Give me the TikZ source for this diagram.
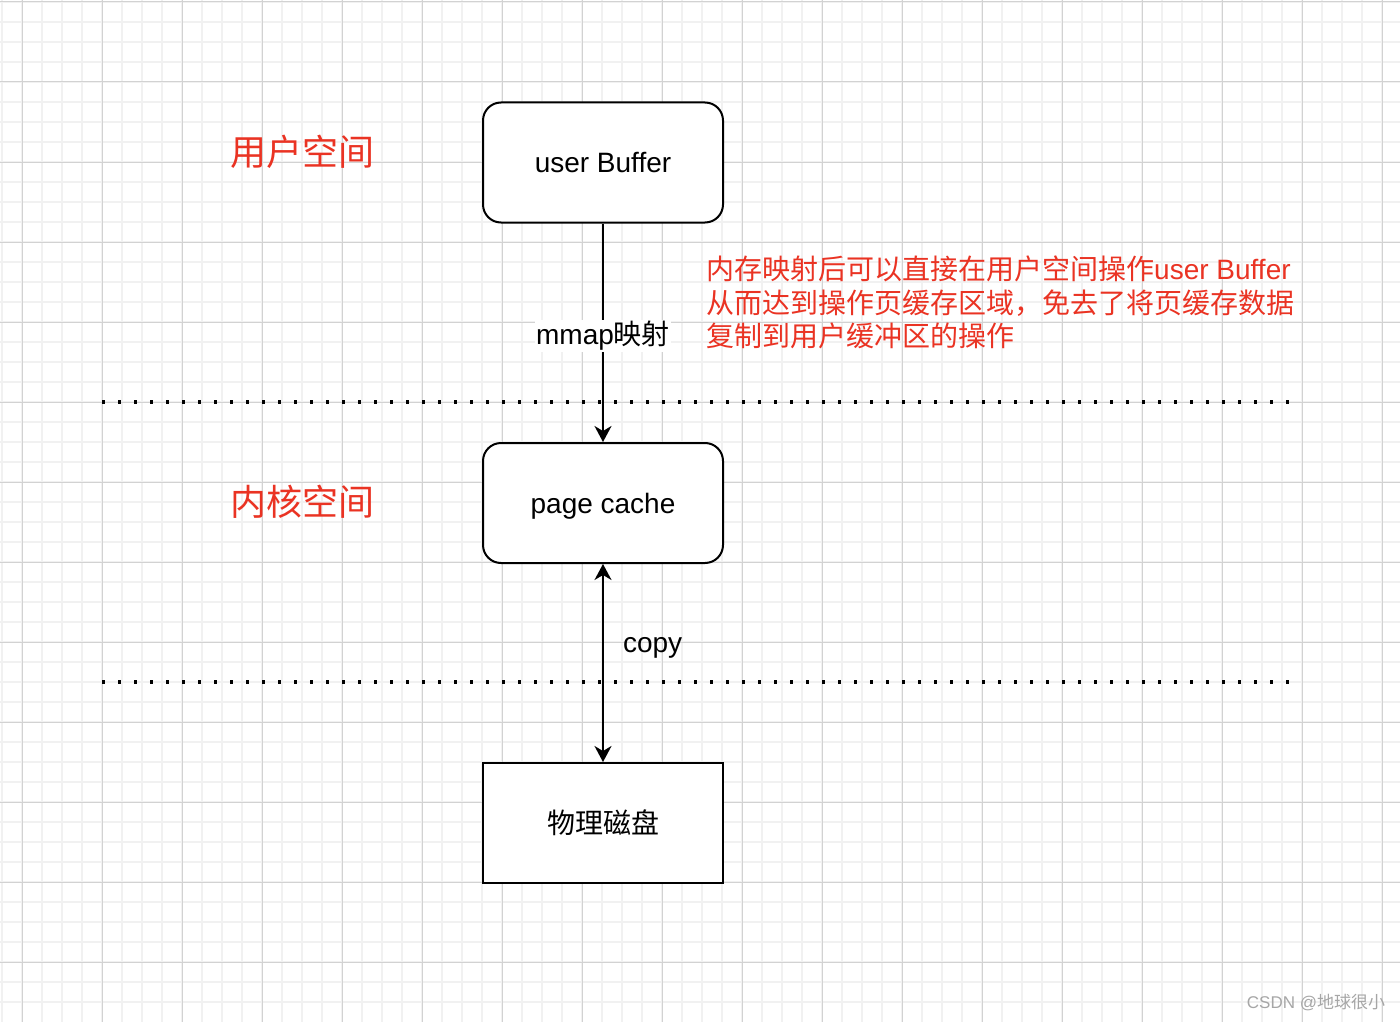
\documentclass[tikz,border=0pt]{standalone}
\usepackage{fontspec}
\setmainfont{Liberation Sans}
\newfontfamily\cjk{Noto Sans CJK SC}
\usetikzlibrary{arrows.meta}
\definecolor{redtxt}{HTML}{EA3323}
\definecolor{minorgrid}{HTML}{F1F1F1}
\definecolor{majorgrid}{HTML}{D2D2D2}
\definecolor{wmark}{HTML}{A6A6A6}
\begin{document}
\begin{tikzpicture}[x=1pt,y=-1pt,
  box/.style={draw=black, line width=2pt, minimum width=240pt, minimum height=120pt,
    inner sep=0pt, fill=white, text height=26pt, text depth=6pt, font=\fontsize{28}{34}\selectfont},
  rbox/.style={box, rounded corners=18pt},
  tip/.tip={Stealth[length=16pt,width=17pt,inset=5pt]},
  conn/.style={line width=2pt, -tip},
  biconn/.style={line width=2pt, tip-tip},
  dotline/.style={line width=3.2pt, dash pattern=on 3.2pt off 12.8pt},
  heading/.style={text=redtxt, font=\cjk\fontsize{36}{40}\selectfont, inner sep=0pt},
  note/.style={text=redtxt, font=\fontsize{28}{33.5}\selectfont, align=left, inner sep=0pt},
  elabel/.style={font=\fontsize{28}{34}\selectfont, inner sep=1pt}
]
\useasboundingbox (0,0) rectangle (1400,1022);
\fill[white] (0,0) rectangle (1400,1022);
% grid
\foreach \x in {2,22,...,1382} \draw[minorgrid, line width=1.6pt] (\x,0) -- (\x,1022);
\foreach \y in {2,22,...,1002} \draw[minorgrid, line width=1.6pt] (0,\y) -- (1400,\y);
\foreach \x in {22,102,...,1382} \draw[majorgrid, line width=1pt] (\x,0) -- (\x,1022);
\foreach \y in {2,82,...,962} \draw[majorgrid, line width=1pt] (0,\y) -- (1400,\y);

% separators
\coordinate (s1a) at (102,402);
\coordinate (s1b) at (1291,402);
\coordinate (s2a) at (102,682);
\coordinate (s2b) at (1291,682);
\draw[dotline] (s1a) -- (s1b);
\draw[dotline] (s2a) -- (s2b);

% nodes
\node[rbox] (ub) at (603,162.5) {user Buffer};
\node[rbox] (pc) at (603,503) {page cache};
\node[box] (disk) at (603,823) {\cjk 物理磁盘};

\node[heading] (h1) at (302,152) {用户空间};
\node[heading] (h2) at (302,502) {内核空间};

\node[note, anchor=west] (nt) at (706,302.5)
  {{\cjk 内存映射后可以直接在用户空间操作}user Buffer\\
   {\cjk 从而达到操作页缓存区域，免去了将页缓存数据}\\
   {\cjk 复制到用户缓冲区的操作}};

\node[font=\fontsize{17}{20}\selectfont, text=wmark, inner sep=0pt] (wm) at (1316,1003) {CSDN @{\cjk 地球很小}};

% connectors
\draw[conn] (ub) -- node[elabel, fill=white, pos=0.515] (ml) {mmap{\cjk 映射}} (pc);
\draw[biconn] (pc) -- node[elabel, pos=0.425, anchor=west, xshift=19pt, inner sep=0pt] (cl) {copy} (disk);
\end{tikzpicture}
\end{document}
